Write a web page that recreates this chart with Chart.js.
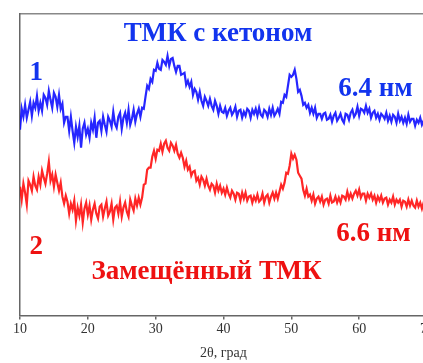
<!DOCTYPE html>
<html>
<head>
<meta charset="utf-8">
<script src="https://cdn.jsdelivr.net/npm/chart.js@4"></script>
<style>
  html, body { margin: 0; padding: 0; background: #fff; overflow: hidden; }
  #wrap { position: absolute; left: 0; top: 0; width: 440px; height: 363px; }
</style>
</head>
<body>
<div id="wrap"><canvas id="graphique-xrd"></canvas></div>
<script>
// 2θ, град
const angles = [
  10, 10.25, 10.5, 10.75, 11, 11.25, 11.5, 11.75, 12, 12.25, 12.5, 12.75,
  13, 13.25, 13.5, 13.75, 14, 14.25, 14.5, 14.75, 15, 15.25, 15.5, 15.75,
  16, 16.25, 16.5, 16.75, 17, 17.25, 17.5, 17.75, 18, 18.25, 18.5, 18.75,
  19, 19.25, 19.5, 19.75, 20, 20.25, 20.5, 20.75, 21, 21.25, 21.5, 21.75,
  22, 22.25, 22.5, 22.75, 23, 23.25, 23.5, 23.75, 24, 24.25, 24.5, 24.75,
  25, 25.25, 25.5, 25.75, 26, 26.25, 26.5, 26.75, 27, 27.25, 27.5, 27.75,
  28, 28.25, 28.5, 28.75, 29, 29.25, 29.5, 29.75, 30, 30.25, 30.5, 30.75,
  31, 31.25, 31.5, 31.75, 32, 32.25, 32.5, 32.75, 33, 33.25, 33.5, 33.75,
  34, 34.25, 34.5, 34.75, 35, 35.25, 35.5, 35.75, 36, 36.25, 36.5, 36.75,
  37, 37.25, 37.5, 37.75, 38, 38.25, 38.5, 38.75, 39, 39.25, 39.5, 39.75,
  40, 40.25, 40.5, 40.75, 41, 41.25, 41.5, 41.75, 42, 42.25, 42.5, 42.75,
  43, 43.25, 43.5, 43.75, 44, 44.25, 44.5, 44.75, 45, 45.25, 45.5, 45.75,
  46, 46.25, 46.5, 46.75, 47, 47.25, 47.5, 47.75, 48, 48.25, 48.5, 48.75,
  49, 49.25, 49.5, 49.75, 50, 50.25, 50.5, 50.75, 51, 51.25, 51.5, 51.75,
  52, 52.25, 52.5, 52.75, 53, 53.25, 53.5, 53.75, 54, 54.25, 54.5, 54.75,
  55, 55.25, 55.5, 55.75, 56, 56.25, 56.5, 56.75, 57, 57.25, 57.5, 57.75,
  58, 58.25, 58.5, 58.75, 59, 59.25, 59.5, 59.75, 60, 60.25, 60.5, 60.75,
  61, 61.25, 61.5, 61.75, 62, 62.25, 62.5, 62.75, 63, 63.25, 63.5, 63.75,
  64, 64.25, 64.5, 64.75, 65, 65.25, 65.5, 65.75, 66, 66.25, 66.5, 66.75,
  67, 67.25, 67.5, 67.75, 68, 68.25, 68.5, 68.75, 69, 69.25, 69.5, 69.75,
  70
];

// 1 - ТМК с кетоном (смещено вверх)
const intensiteCetone = [
  186, 207, 199, 211, 198, 206, 214, 200, 213, 208, 220, 205,
  213, 205, 221, 218, 211, 225, 216, 208, 223, 219, 209, 221,
  207, 212, 193, 199, 199, 185, 199, 185, 173, 189, 179, 190,
  168, 187, 193, 181, 187, 178, 193, 186, 198, 178, 193, 195,
  185, 199, 191, 184, 199, 195, 189, 204, 192, 188, 199, 203,
  187, 198, 203, 193, 206, 191, 197, 206, 194, 202, 207, 199,
  208, 207, 219, 230, 227, 237, 234, 246, 245, 253, 247, 246,
  256, 254, 251, 260, 250, 257, 258, 250, 244, 250, 250, 241,
  242, 243, 231, 235, 229, 234, 221, 227, 224, 216, 224, 215,
  210, 219, 215, 210, 217, 210, 206, 215, 210, 202, 210, 204,
  203, 208, 200, 205, 208, 201, 204, 209, 199, 205, 206, 198,
  204, 200, 207, 205, 198, 206, 202, 207, 200, 208, 201, 199,
  206, 204, 199, 207, 201, 208, 200, 203, 207, 202, 214, 213,
  221, 219, 230, 241, 239, 241, 246, 237, 224, 226, 220, 211,
  213, 208, 211, 203, 208, 202, 208, 198, 202, 202, 197, 202,
  203, 196, 197, 201, 194, 200, 203, 195, 198, 202, 196, 193,
  202, 201, 196, 203, 206, 199, 202, 209, 200, 207, 206, 203,
  210, 203, 207, 198, 203, 205, 198, 202, 196, 202, 200, 197,
  203, 195, 200, 194, 201, 199, 193, 202, 195, 199, 193, 198,
  192, 201, 194, 197, 197, 190, 196, 193, 198, 191, 195, 192,
  193
];

// 2 - Замещённый ТМК
const intensiteSubstitue = [
  129, 116, 132, 123, 111, 135, 131, 125, 139, 130, 126, 139,
  131, 145, 138, 132, 142, 154, 135, 141, 129, 141, 133, 125,
  133, 119, 112, 120, 114, 102, 112, 106, 115, 95, 108, 100,
  111, 93, 107, 113, 101, 110, 96, 106, 112, 102, 97, 109,
  111, 99, 107, 114, 100, 104, 112, 96, 108, 110, 102, 114,
  99, 108, 113, 104, 99, 116, 110, 105, 117, 110, 118, 111,
  118, 131, 132, 146, 148, 148, 159, 165, 157, 166, 165, 172,
  164, 172, 175, 168, 165, 173, 170, 165, 171, 162, 158, 163,
  158, 149, 155, 146, 149, 140, 144, 145, 135, 138, 131, 139,
  136, 130, 137, 130, 126, 132, 130, 123, 132, 125, 130, 123,
  127, 121, 128, 122, 118, 125, 122, 116, 123, 122, 115, 123,
  117, 123, 115, 119, 120, 113, 119, 115, 121, 114, 116, 122,
  113, 119, 121, 113, 119, 123, 117, 123, 117, 124, 131, 127,
  133, 143, 142, 150, 162, 157, 161, 156, 143, 140, 137, 126,
  120, 127, 119, 121, 115, 121, 112, 117, 119, 114, 119, 111,
  116, 117, 112, 120, 113, 114, 119, 113, 118, 113, 120, 119,
  116, 124, 117, 122, 117, 122, 125, 120, 126, 118, 122, 122,
  115, 122, 118, 122, 116, 120, 113, 119, 115, 120, 113, 117,
  118, 111, 116, 113, 119, 111, 116, 113, 116, 109, 115, 114,
  109, 116, 110, 115, 110, 108, 115, 109, 113, 107, 113, 108,
  110
];

const ticksX = [10, 20, 30, 40, 50, 60, 70];

const annotations = [
  { text: "ТМК с кетоном", x: 39.2, y: 282, color: "#1234ee" },
  { text: "1", x: 12.4, y: 243, color: "#1234ee" },
  { text: "6.4 нм", x: 62.4, y: 227, color: "#1234ee" },
  { text: "6.6 нм", x: 62.1, y: 82, color: "#ee1111" },
  { text: "2", x: 12.4, y: 69, color: "#ee1111" },
  { text: "Замещённый ТМК", x: 37.5, y: 43, color: "#ee1111" }
];

const pointsCetone = angles.map((a, i) => ({ x: a, y: intensiteCetone[i] }));
const pointsSubstitue = angles.map((a, i) => ({ x: a, y: intensiteSubstitue[i] }));

const pluginTextes = {
    id: "textes",
    afterDatasetsDraw(chart) {
        const ctx = chart.ctx;
        const sx = chart.scales.x, sy = chart.scales.y;
        ctx.save();
        ctx.font = "bold 27px 'Liberation Serif', 'DejaVu Serif', serif";
        ctx.textAlign = "center";
        ctx.textBaseline = "middle";
        for (let a of annotations) {
            ctx.fillStyle = a.color;
            ctx.fillText(a.text, sx.getPixelForValue(a.x), sy.getPixelForValue(a.y));
        }
        ctx.restore();
    }
};

const data = {
    datasets: [{
        label: "ТМК с кетоном",
        data: pointsCetone,
        borderColor: "rgba(0, 0, 255, 0.85)",
        borderWidth: 2.2,
        pointRadius: 0,
        tension: 0
    }, {
        label: "Замещённый ТМК",
        data: pointsSubstitue,
        borderColor: "rgba(255, 0, 0, 0.85)",
        borderWidth: 2.2,
        pointRadius: 0,
        tension: 0
    }]
};

const config = {
    type: "line",
    data: data,
    options: {
        responsive: true,
        maintainAspectRatio: false,
        animation: false,
        layout: { padding: { left: 12, right: 13, top: 6, bottom: 1 } },
        plugins: { legend: { display: false }, tooltip: { enabled: false } },
        scales: {
            x: {
                type: "linear",
                min: 10,
                max: 70,
                afterBuildTicks: (axis) => { axis.ticks = ticksX.map(v => ({ value: v })); },
                border: { display: true, color: "#666", width: 1.5 },
                grid: { display: true, drawOnChartArea: false, drawTicks: true, tickLength: 4, color: "#666", lineWidth: 1.5 },
                ticks: { color: "#333", font: { family: "'Liberation Serif', serif", size: 14 }, padding: 2, maxRotation: 0 },
                title: { display: true, text: "2θ, град", color: "#333", font: { family: "'Liberation Serif', serif", size: 14 }, padding: { top: 5, bottom: 0 } }
            },
            x2: {
                type: "linear",
                position: "top",
                min: 10,
                max: 70,
                border: { display: true, color: "#888", width: 1.5 },
                grid: { display: false },
                ticks: { display: false }
            },
            y: {
                min: 0,
                max: 302,
                border: { display: true, color: "#666", width: 1.5 },
                grid: { display: false },
                ticks: { display: false }
            }
        }
    },
    plugins: [pluginTextes]
};

const graphique = new Chart(document.querySelector("#graphique-xrd"), config);
</script>
</body>
</html>
